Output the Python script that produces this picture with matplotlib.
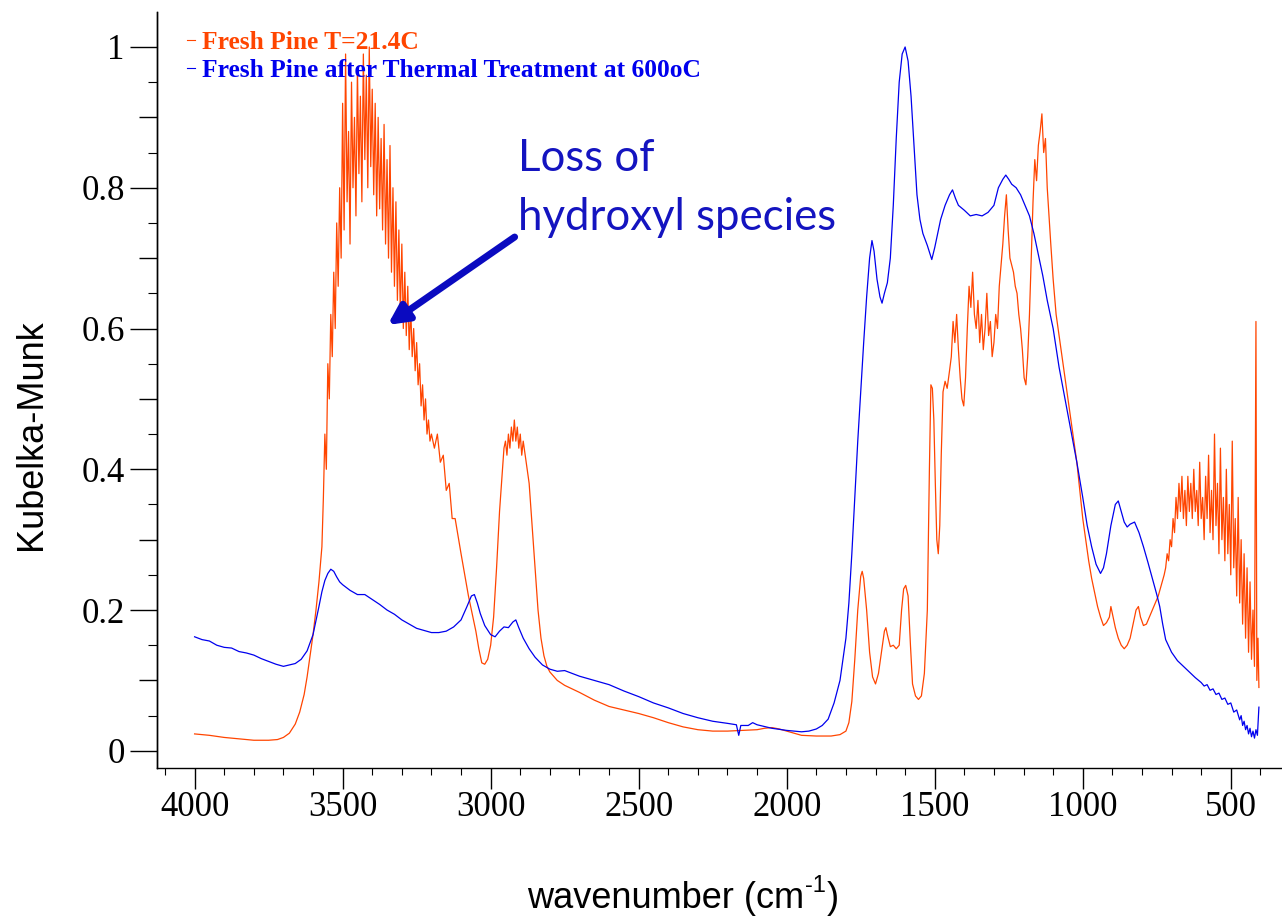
import numpy as np
import matplotlib
matplotlib.use("Agg")
import matplotlib.pyplot as plt
from matplotlib.ticker import MultipleLocator, FixedLocator

# --- Fresh pine (room temperature) ---
wn_fresh = [
    4000, 3950, 3900, 3850, 3800, 3750, 3720, 3700, 3680, 3660, 3645, 3630, 3620, 3610,
    3600, 3590, 3580, 3570,
    3565, 3560, 3555, 3550, 3545, 3540, 3535, 3530, 3525, 3520, 3515, 3510, 3505, 3500,
    3495, 3490, 3485, 3480, 3475, 3470, 3465, 3460, 3455, 3450, 3445, 3440, 3435, 3430,
    3425, 3420, 3415, 3410, 3405, 3400, 3395, 3390, 3385, 3380, 3375, 3370, 3365, 3360,
    3355, 3350, 3345, 3340, 3335, 3330, 3325, 3320, 3315, 3310, 3305, 3300, 3295, 3290,
    3285, 3280, 3275, 3270, 3265, 3260, 3255, 3250, 3245, 3240, 3235, 3230, 3225, 3220,
    3215, 3210, 3205, 3200,
    3190, 3180, 3170, 3160, 3150, 3140, 3130, 3120, 3100, 3075, 3050, 3040, 3030, 3020,
    3010, 3000, 2990, 2980,
    2970, 2960, 2955, 2950, 2945, 2940, 2935, 2930, 2925, 2920, 2915, 2910, 2905, 2900,
    2895, 2890, 2880, 2870, 2860, 2850, 2840, 2830, 2820, 2810, 2800,
    2775, 2750, 2725, 2700, 2650, 2600, 2550, 2500, 2450, 2400, 2350, 2300, 2250, 2200,
    2150, 2100, 2075, 2050, 2025, 2000, 1975, 1950, 1900, 1850, 1820, 1800, 1790, 1780,
    1770, 1760, 1750, 1745, 1740, 1730, 1720, 1710, 1700, 1690, 1680, 1670, 1665, 1660,
    1650, 1640, 1630, 1620, 1612, 1605, 1598, 1590, 1582, 1575, 1565, 1555, 1545, 1535,
    1525, 1518, 1513, 1508, 1503, 1498, 1493, 1488, 1483, 1478, 1472, 1465, 1458, 1450,
    1444, 1438, 1432, 1426, 1420, 1414, 1408, 1402, 1396, 1390, 1384, 1378, 1372, 1366,
    1360, 1354, 1348, 1342, 1336, 1330, 1324, 1318, 1312, 1306, 1300, 1294, 1288, 1282,
    1276, 1270, 1264, 1258, 1252, 1246, 1240, 1234, 1228, 1222, 1216, 1210, 1204, 1198,
    1192, 1186, 1180, 1174, 1168, 1162, 1156, 1150, 1144, 1138, 1132, 1126, 1120, 1114,
    1108, 1100, 1090, 1080, 1070, 1060, 1050, 1040, 1030, 1020, 1010, 1000, 990, 980,
    970, 960, 950, 940, 930, 920, 910, 905, 900, 890, 880, 870, 860, 850, 840, 830, 820,
    812, 805, 795, 785, 775, 765, 755, 745, 735, 725,
    720, 715, 710, 705, 700, 695, 690, 685, 680, 675, 670, 665, 660, 655, 650, 645, 640,
    635, 630, 625, 620, 615, 610, 605, 600, 595, 590, 585, 580, 575, 570, 565, 560, 555,
    550, 545, 540, 535, 530, 525, 520, 515, 510, 505, 500, 495, 490, 485, 480, 475, 470,
    465, 460, 455, 450, 445, 440, 435, 430, 425, 420, 415, 412, 408, 405,
]
km_fresh = [
    0.024, 0.022, 0.019, 0.017, 0.015, 0.015, 0.016, 0.019, 0.025, 0.038, 0.055, 0.080, 0.105, 0.135,
    0.165, 0.200, 0.240, 0.290,
    0.36, 0.45, 0.40, 0.55, 0.50, 0.62, 0.56, 0.68, 0.60, 0.75, 0.66, 0.80, 0.70, 0.92,
    0.74, 0.99, 0.78, 0.88, 0.72, 0.95, 0.80, 0.90, 0.76, 0.97, 0.82, 0.93, 0.78, 0.99,
    0.84, 0.96, 0.80, 1.00, 0.83, 0.94, 0.79, 0.92, 0.76, 0.90, 0.77, 0.87, 0.74, 0.89,
    0.72, 0.84, 0.70, 0.86, 0.68, 0.80, 0.66, 0.78, 0.64, 0.74, 0.62, 0.72, 0.60, 0.68,
    0.59, 0.66, 0.57, 0.63, 0.56, 0.60, 0.54, 0.58, 0.52, 0.55, 0.49, 0.52, 0.47, 0.50,
    0.45, 0.47, 0.44, 0.45,
    0.43, 0.45, 0.41, 0.42, 0.37, 0.38, 0.33, 0.33, 0.28, 0.22, 0.17, 0.145, 0.125, 0.123,
    0.13, 0.15, 0.19, 0.26,
    0.34, 0.40, 0.43, 0.44, 0.42, 0.45, 0.43, 0.46, 0.44, 0.47, 0.44, 0.46, 0.43, 0.45,
    0.42, 0.44, 0.41, 0.38, 0.32, 0.26, 0.20, 0.16, 0.135, 0.12, 0.112,
    0.100, 0.093, 0.088, 0.083, 0.072, 0.063, 0.058, 0.053, 0.047, 0.040, 0.034, 0.030, 0.028, 0.028,
    0.029, 0.030, 0.032, 0.033, 0.031, 0.028, 0.025, 0.022, 0.021, 0.021, 0.023, 0.028, 0.040, 0.070,
    0.130, 0.200, 0.248, 0.255, 0.245, 0.200, 0.140, 0.105, 0.095, 0.110, 0.140, 0.170, 0.175, 0.165,
    0.148, 0.150, 0.145, 0.150, 0.200, 0.230, 0.235, 0.220, 0.150, 0.095, 0.078, 0.073, 0.078, 0.110,
    0.200, 0.400, 0.520, 0.515, 0.470, 0.380, 0.300, 0.280, 0.320, 0.420, 0.510, 0.525, 0.515, 0.540,
    0.560, 0.610, 0.580, 0.620, 0.570, 0.530, 0.500, 0.490, 0.530, 0.600, 0.660, 0.630, 0.680, 0.620,
    0.600, 0.640, 0.580, 0.620, 0.570, 0.600, 0.650, 0.590, 0.610, 0.560, 0.580, 0.620, 0.600, 0.660,
    0.690, 0.720, 0.760, 0.790, 0.740, 0.700, 0.690, 0.680, 0.660, 0.650, 0.620, 0.600, 0.570, 0.530,
    0.520, 0.560, 0.620, 0.700, 0.780, 0.840, 0.810, 0.860, 0.880, 0.905, 0.850, 0.870, 0.800, 0.760,
    0.720, 0.670, 0.620, 0.590, 0.560, 0.530, 0.500, 0.470, 0.440, 0.410, 0.370, 0.330, 0.300, 0.270,
    0.245, 0.225, 0.205, 0.190, 0.178, 0.182, 0.190, 0.205, 0.195, 0.175, 0.160, 0.150, 0.145, 0.150, 0.160, 0.180, 0.200,
    0.205, 0.190, 0.178, 0.180, 0.190, 0.200, 0.210, 0.220, 0.235, 0.250,
    0.26, 0.28, 0.27, 0.30, 0.29, 0.33, 0.31, 0.36, 0.33, 0.38, 0.34, 0.39, 0.33, 0.37, 0.32, 0.39, 0.34,
    0.38, 0.33, 0.40, 0.34, 0.37, 0.32, 0.41, 0.33, 0.36, 0.30, 0.39, 0.33, 0.42, 0.31, 0.37, 0.30, 0.45,
    0.32, 0.38, 0.28, 0.43, 0.30, 0.36, 0.27, 0.40, 0.28, 0.35, 0.25, 0.44, 0.26, 0.33, 0.22, 0.36, 0.21,
    0.30, 0.18, 0.28, 0.16, 0.26, 0.14, 0.24, 0.13, 0.20, 0.12, 0.61, 0.10, 0.16, 0.09,
]

# --- Fresh pine after thermal treatment at 600 C ---
wn_treated = [
    4000, 3975, 3950, 3925, 3900, 3875, 3850, 3825, 3800, 3775, 3750, 3725, 3700, 3680,
    3660, 3640, 3620, 3600, 3590, 3580, 3570, 3560, 3550, 3540, 3530, 3520, 3510, 3500,
    3475, 3450, 3425, 3400, 3375, 3350, 3325, 3300, 3275, 3250, 3225, 3200, 3175, 3150,
    3125, 3100, 3080, 3065, 3055, 3045, 3035, 3020, 3000, 2985, 2970, 2955, 2940, 2925,
    2915, 2905, 2890, 2870, 2850, 2825, 2800, 2775, 2750, 2725, 2700, 2650, 2600, 2550,
    2500, 2450, 2400, 2350, 2300, 2250, 2200, 2170, 2162, 2155, 2130, 2115, 2100, 2050,
    2000, 1950, 1925, 1900, 1880, 1860, 1840, 1820, 1800, 1790, 1780, 1770, 1760, 1750,
    1740, 1730, 1720, 1712, 1705, 1695, 1685, 1678, 1670, 1660, 1650, 1640, 1630, 1620,
    1610, 1600, 1590, 1580, 1570, 1560, 1550, 1540, 1525, 1510, 1500, 1490, 1480, 1465,
    1450, 1440, 1430, 1420, 1400, 1380, 1360, 1340, 1320, 1300, 1285, 1270, 1260, 1250,
    1240, 1225, 1210, 1195, 1180, 1165, 1150, 1135, 1120, 1100, 1080, 1060, 1040, 1020,
    1000, 985, 970, 955, 940, 930, 920, 905, 890, 880, 870, 860, 850, 840, 825, 810, 795,
    780, 765, 750, 740, 730, 720, 700, 680, 660, 640, 620,
    600, 590, 580, 570, 560, 550, 540, 530, 520, 510, 500, 490, 480, 470, 465, 460, 455,
    450, 445, 440, 435, 430, 425, 420, 415, 410, 405,
]
km_treated = [
    0.162, 0.158, 0.156, 0.150, 0.147, 0.146, 0.141, 0.139, 0.136, 0.131, 0.127, 0.123, 0.120, 0.122,
    0.124, 0.130, 0.142, 0.165, 0.185, 0.205, 0.226, 0.242, 0.252, 0.258, 0.255, 0.247, 0.240, 0.236,
    0.228, 0.222, 0.222, 0.215, 0.208, 0.200, 0.194, 0.186, 0.180, 0.174, 0.171, 0.168, 0.168, 0.170,
    0.176, 0.186, 0.205, 0.220, 0.222, 0.210, 0.195, 0.178, 0.165, 0.162, 0.170, 0.176, 0.175, 0.183,
    0.186, 0.175, 0.160, 0.145, 0.133, 0.122, 0.116, 0.113, 0.114, 0.110, 0.106, 0.100, 0.094, 0.085,
    0.077, 0.068, 0.061, 0.053, 0.047, 0.042, 0.039, 0.037, 0.022, 0.036, 0.036, 0.040, 0.037, 0.032,
    0.029, 0.027, 0.028, 0.031, 0.036, 0.045, 0.068, 0.100, 0.160, 0.210, 0.280, 0.360, 0.440, 0.510,
    0.580, 0.645, 0.700, 0.725, 0.710, 0.670, 0.645, 0.636, 0.650, 0.665, 0.700, 0.775, 0.870, 0.950,
    0.990, 1.000, 0.980, 0.930, 0.860, 0.790, 0.755, 0.735, 0.718, 0.698, 0.715, 0.735, 0.755, 0.775,
    0.790, 0.797, 0.785, 0.775, 0.768, 0.760, 0.762, 0.760, 0.765, 0.775, 0.800, 0.812, 0.818, 0.812,
    0.805, 0.800, 0.790, 0.775, 0.760, 0.735, 0.705, 0.675, 0.640, 0.600, 0.545, 0.500, 0.455, 0.410,
    0.360, 0.320, 0.290, 0.265, 0.252, 0.260, 0.280, 0.320, 0.350, 0.355, 0.340, 0.325, 0.318, 0.322, 0.325, 0.310, 0.290,
    0.268, 0.245, 0.222, 0.205, 0.180, 0.158, 0.140, 0.128, 0.120, 0.112, 0.104,
    0.097, 0.092, 0.094, 0.086, 0.088, 0.080, 0.082, 0.073, 0.075, 0.066, 0.068, 0.055, 0.058, 0.044, 0.050, 0.036, 0.042,
    0.030, 0.036, 0.024, 0.032, 0.020, 0.028, 0.018, 0.030, 0.022, 0.062,
]

labels = ["Fresh Pine T=21.4C", "Fresh Pine after Thermal Treatment at 600oC"]
colors = ["#FF4500", "#0000EE"]

W, H = 1282, 919
fig = plt.figure(figsize=(W / 100, H / 100), dpi=100)
ax = fig.add_axes([157.3 / W, 1 - 767.7 / H, 1 - 157.3 / W, (767.7 - 12) / H])

ax.plot(wn_fresh, km_fresh, color=colors[0], lw=0.9, label=labels[0])
ax.plot(wn_treated, km_treated, color=colors[1], lw=0.9, label=labels[1])

ax.set_xlim(4126, 327)
ax.set_ylim(-0.024, 1.0497)

for s in ("top", "right"):
    ax.spines[s].set_visible(False)
for s in ("left", "bottom"):
    ax.spines[s].set_linewidth(1.0)

serif = "Liberation Serif"
ax.xaxis.set_major_locator(MultipleLocator(500))
ax.xaxis.set_minor_locator(MultipleLocator(100))
ax.yaxis.set_major_locator(MultipleLocator(0.2))
ax.yaxis.set_minor_locator(MultipleLocator(0.1))
ax.yaxis.set_major_formatter(plt.FuncFormatter(lambda v, p: f"{v:g}"))
ax.tick_params(axis="x", which="major", direction="out", length=15, width=1.0, pad=2,
               labelsize=25)
ax.tick_params(axis="x", which="minor", direction="out", length=5, width=0.8)
ax.tick_params(axis="y", which="major", direction="out", length=19.5, width=1.0, pad=4,
               labelsize=25)
ax.tick_params(axis="y", which="minor", direction="out", length=13, width=1.0)
for lab in ax.get_xticklabels() + ax.get_yticklabels():
    lab.set_fontfamily(serif)

# finest y ticks at the half steps
sec = ax.secondary_yaxis("left")
sec.yaxis.set_major_locator(FixedLocator(np.arange(0.05, 1.0, 0.1)))
sec.tick_params(axis="y", which="major", direction="out", length=6.5, width=0.8,
                labelleft=False)
sec.yaxis.set_minor_locator(FixedLocator([]))
sec.spines["left"].set_linewidth(1.0)

sans = "Liberation Sans"
fig.text(32 / W, 1 - 435 / H, "Kubelka-Munk", rotation=90, ha="center", va="center",
         family=sans, fontsize=26)

# x label with a plain-hyphen superscript
renderer = fig.canvas.get_renderer()
base_y = 1 - 908 / H
t_main = fig.text(0, base_y, "wavenumber (cm", ha="left", va="baseline",
                  family=sans, fontsize=26)
t_sup = fig.text(0, base_y, "-1", ha="left", va="baseline", family=sans, fontsize=17)
t_end = fig.text(0, base_y, ")", ha="left", va="baseline", family=sans, fontsize=26)
w_main = t_main.get_window_extent(renderer).width
w_sup = t_sup.get_window_extent(renderer).width
w_end = t_end.get_window_extent(renderer).width
total = w_main + w_sup + w_end + 2
x0 = 683 - total / 2
t_main.set_x(x0 / W)
t_sup.set_position(((x0 + w_main + 1) / W, base_y + 16 / H))
t_end.set_x((x0 + w_main + w_sup + 2) / W)

leg = ax.legend(loc="upper left", bbox_to_anchor=(187 / W, 1 - 31 / H),
                bbox_transform=fig.transFigure, frameon=False, handlelength=0.3,
                handletextpad=0.3, labelspacing=0.2, borderaxespad=0, borderpad=0,
                prop={"family": serif, "weight": "bold", "size": 18.4},
                labelcolor="linecolor")
for h in leg.legend_handles:
    h.set_linewidth(0.8)

ax.annotate("", xy=(3348, 0.605), xytext=(2919, 0.73),
            arrowprops=dict(arrowstyle="-|>,head_length=1.2,head_width=0.6",
                            color="#0A0AC0", lw=5, shrinkA=0, shrinkB=0))
fig.text(518 / W, 1 - 138 / H, "Loss of\nhydroxyl species", ha="left", va="top",
         family="Lato", fontsize=31.5, color="#1414C0", linespacing=1.55)

fig.savefig("out.png", dpi=100)
